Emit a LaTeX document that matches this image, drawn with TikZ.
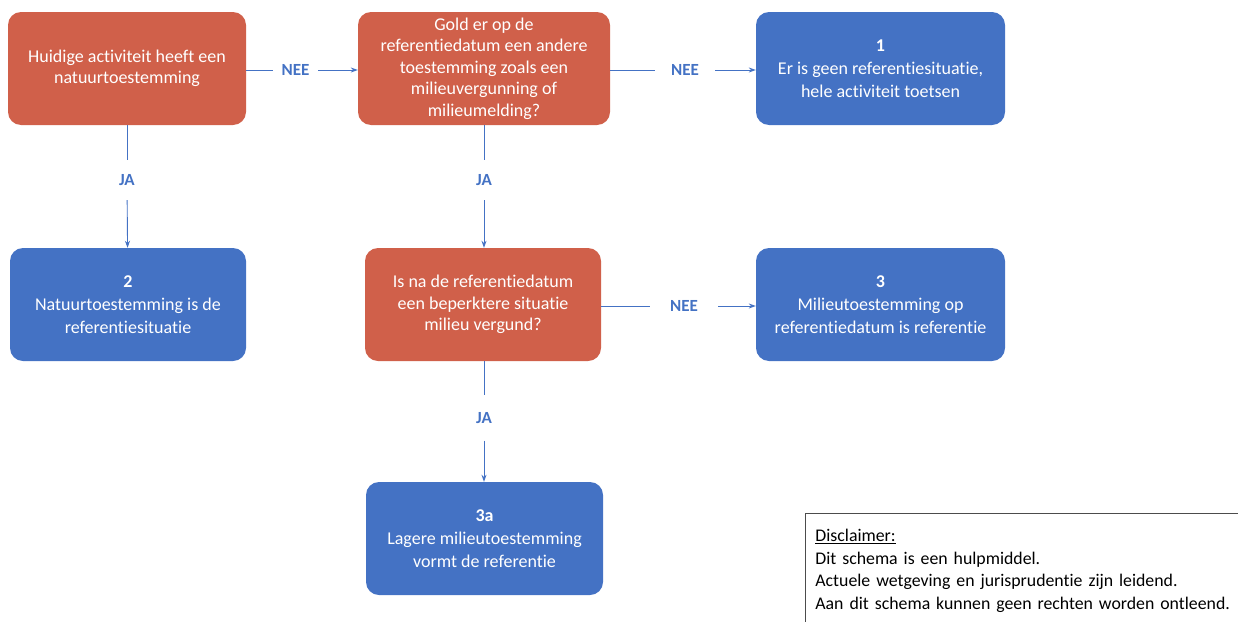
\documentclass[tikz,border=0pt]{standalone}
\usepackage{fontspec}
\setmainfont{Carlito}[Ligatures={NoCommon}]
\usetikzlibrary{arrows.meta,positioning}
\definecolor{askorange}{HTML}{D0604A}
\definecolor{answerblue}{HTML}{4472C4}
\tikzset{
  question/.style={rectangle,rounded corners=13pt,fill=askorange,text=white,
    minimum width=238pt,minimum height=113pt,align=center,inner sep=2pt,
    font=\fontsize{18}{21.5}\selectfont},
  answer/.style={question,fill=answerblue,font=\fontsize{18}{23}\selectfont},
  link/.style={answerblue,line width=0.9pt},
  flow/.style={link,-{Stealth[length=7pt,width=5pt]}},
  choice/.style={text=answerblue,inner sep=0pt,minimum height=40pt,
    font=\bfseries\fontsize{17}{17}\selectfont}
}

\begin{document}
\begin{tikzpicture}[x=1pt,y=-1pt]
  \useasboundingbox (0,0) rectangle (1238,621);
  % vragen
  \node[question] (nature) at (127,68.5) {Huidige activiteit heeft een\\natuurtoestemming};
  \node[question,minimum width=252pt] (other) at (484,68.5)
    {Gold er op de\\referentiedatum een andere\\toestemming zoals een\\milieuvergunning of\\milieumelding?};
  \node[question,minimum width=236pt] (lower) at (483,304.5)
    {Is na de referentiedatum\\een beperktere situatie\\milieu vergund?};
  % uitkomsten
  \node[answer,minimum width=249pt] (none) at (880.5,68.5)
    {\textbf{1}\\Er is geen referentiesituatie,\\hele activiteit toetsen};
  \node[answer,minimum width=236pt] (natref) at (128,304.5)
    {\textbf{2}\\Natuurtoestemming is de\\referentiesituatie};
  \node[answer,minimum width=249pt] (envref) at (880.5,304.5)
    {\textbf{3}\\Milieutoestemming op\\referentiedatum is referentie};
  \node[answer,minimum width=237pt] (lowref) at (484.5,538.5)
    {\textbf{3a}\\Lagere milieutoestemming\\vormt de referentie};
  % keuzes
  \node[choice,minimum width=45pt] (noA) at (295.5,70) {NEE};
  \node[choice,minimum width=60pt] (noB) at (685,70) {NEE};
  \node[choice,minimum width=68pt] (noC) at (684,306) {NEE};
  \node[choice] (yesA) at (127,180) {JA};
  \node[choice] (yesB) at (484,180) {JA};
  \node[choice,minimum height=45pt] (yesC) at (484,418) {JA};
  \draw[link] (nature.east |- noA) -- (noA);
  \draw[flow] (noA) -- (other.west |- noA);
  \draw[link] (other.east |- noB) -- (noB);
  \draw[flow] (noB) -- (none.west |- noB);
  \draw[link] (lower.east |- noC) -- (noC);
  \draw[flow] (noC) -- (envref.west |- noC);
  \draw[link] (nature) -- (yesA);
  \draw[flow] (yesA) -- (natref);
  \draw[link] (other.south -| yesB) -- (yesB);
  \draw[flow] (yesB) -- (lower.north -| yesB);
  \draw[link] (lower.south -| yesC) -- (yesC);
  \draw[flow] (yesC) -- (lowref.north -| yesC);
  % disclaimer
  \node[draw=black!70,line width=0.8pt,anchor=north west,minimum width=445pt,minimum height=115pt,
    align=left,text width=425pt,inner xsep=9pt,inner ysep=8pt,
    font=\fontsize{17.8}{22.5}\selectfont] (note) at (805,513)
    {\underline{Disclaimer:}\\Dit schema is een hulpmiddel.\\Actuele wetgeving en jurisprudentie zijn leidend.\\Aan dit schema kunnen geen rechten worden ontleend.};
\end{tikzpicture}
\end{document}
